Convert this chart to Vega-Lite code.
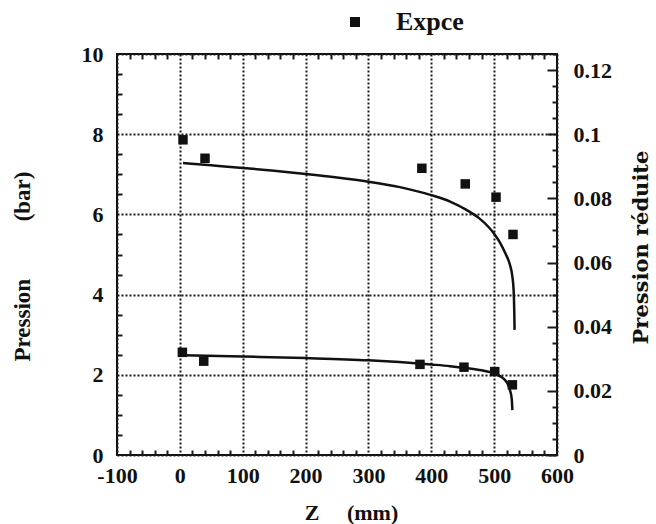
{
  "$schema": "https://vega.github.io/schema/vega-lite/v6.json",
  "width": 440,
  "height": 401,
  "autosize": {"type": "none"},
  "padding": {"left": 117, "top": 54, "right": 99, "bottom": 69},
  "background": "white",
  "config": {
    "view": {"stroke": "#111", "strokeWidth": 2},
    "axis": {
      "domain": false,
      "ticks": false,
      "tickSize": 0,
      "labelFont": "Liberation Serif",
      "labelFontWeight": "bold",
      "labelFontSize": 22,
      "labelColor": "#111",
      "labelOverlap": false,
      "labelFlush": false,
      "titleFont": "Liberation Serif",
      "titleFontWeight": "bold",
      "titleFontSize": 23,
      "titleColor": "#111",
      "gridColor": "#1a1a1a",
      "gridWidth": 2
    }
  },
  "datasets": {
    "mesures": [
      {"z": 5, "p": 7.86, "serie": "Expce"},
      {"z": 40, "p": 7.40, "serie": "Expce"},
      {"z": 385, "p": 7.15, "serie": "Expce"},
      {"z": 454, "p": 6.76, "serie": "Expce"},
      {"z": 503, "p": 6.43, "serie": "Expce"},
      {"z": 530, "p": 5.50, "serie": "Expce"},
      {"z": 4, "p": 2.56, "serie": "Expce"},
      {"z": 38, "p": 2.34, "serie": "Expce"},
      {"z": 382, "p": 2.26, "serie": "Expce"},
      {"z": 452, "p": 2.19, "serie": "Expce"},
      {"z": 501, "p": 2.08, "serie": "Expce"},
      {"z": 529, "p": 1.75, "serie": "Expce"}
    ],
    "modele": [
      {"z": 5, "pr": 0.0910, "courbe": "haut"},
      {"z": 50, "pr": 0.0903, "courbe": "haut"},
      {"z": 100, "pr": 0.0895, "courbe": "haut"},
      {"z": 150, "pr": 0.0886, "courbe": "haut"},
      {"z": 200, "pr": 0.0876, "courbe": "haut"},
      {"z": 250, "pr": 0.0865, "courbe": "haut"},
      {"z": 300, "pr": 0.0852, "courbe": "haut"},
      {"z": 350, "pr": 0.0835, "courbe": "haut"},
      {"z": 400, "pr": 0.0810, "courbe": "haut"},
      {"z": 430, "pr": 0.0790, "courbe": "haut"},
      {"z": 456, "pr": 0.0764, "courbe": "haut"},
      {"z": 475, "pr": 0.0740, "courbe": "haut"},
      {"z": 490, "pr": 0.0713, "courbe": "haut"},
      {"z": 500, "pr": 0.0690, "courbe": "haut"},
      {"z": 510, "pr": 0.0660, "courbe": "haut"},
      {"z": 518, "pr": 0.0628, "courbe": "haut"},
      {"z": 525, "pr": 0.0594, "courbe": "haut"},
      {"z": 529, "pr": 0.0556, "courbe": "haut"},
      {"z": 531, "pr": 0.0514, "courbe": "haut"},
      {"z": 532, "pr": 0.0450, "courbe": "haut"},
      {"z": 532.5, "pr": 0.0390, "courbe": "haut"},
      {"z": 5, "pr": 0.0311, "courbe": "bas"},
      {"z": 100, "pr": 0.0307, "courbe": "bas"},
      {"z": 200, "pr": 0.0302, "courbe": "bas"},
      {"z": 300, "pr": 0.0295, "courbe": "bas"},
      {"z": 400, "pr": 0.0282, "courbe": "bas"},
      {"z": 430, "pr": 0.0277, "courbe": "bas"},
      {"z": 456, "pr": 0.0271, "courbe": "bas"},
      {"z": 480, "pr": 0.0264, "courbe": "bas"},
      {"z": 499, "pr": 0.0255, "courbe": "bas"},
      {"z": 510, "pr": 0.0245, "courbe": "bas"},
      {"z": 517, "pr": 0.0234, "courbe": "bas"},
      {"z": 522, "pr": 0.0220, "courbe": "bas"},
      {"z": 525, "pr": 0.0203, "courbe": "bas"},
      {"z": 528, "pr": 0.0175, "courbe": "bas"},
      {"z": 529, "pr": 0.0140, "courbe": "bas"}
    ]
  },
  "layer": [
    {
      "data": {"name": "mesures"},
      "mark": {"type": "square", "size": 90, "opacity": 1},
      "encoding": {
        "x": {
          "field": "z",
          "type": "quantitative",
          "scale": {"domain": [-100, 600], "nice": false, "zero": false},
          "axis": {
            "orient": "bottom",
            "values": [-100, -80, -60, -40, -20, 0, 20, 40, 60, 80, 100, 120, 140, 160, 180, 200, 220, 240, 260, 280, 300, 320, 340, 360, 380, 400, 420, 440, 460, 480, 500, 520, 540, 560, 580, 600],
            "labelExpr": "datum.value % 100 === 0 ? '' + datum.value : ''",
            "grid": true,
            "gridDash": {"condition": {"test": "datum.value % 100 === 0", "value": [2, 2]}, "value": [5, 391, 5, 1000]},
            "labelPadding": 10,
            "title": "Z\u00a0\u00a0\u00a0\u00a0\u00a0(mm)",
            "titleFontSize": 22,
            "titleX": 234,
            "titleY": 64,
            "titleAlign": "center",
            "titleBaseline": "alphabetic"
          }
        },
        "y": {
          "field": "p",
          "type": "quantitative",
          "scale": {"domain": [0, 10], "nice": false},
          "axis": {
            "orient": "left",
            "values": [0, 0.5, 1, 1.5, 2, 2.5, 3, 3.5, 4, 4.5, 5, 5.5, 6, 6.5, 7, 7.5, 8, 8.5, 9, 9.5, 10],
            "labelExpr": "datum.value % 2 === 0 ? '' + datum.value : ''",
            "grid": true,
            "gridDash": {"condition": {"test": "datum.value % 2 === 0", "value": [2, 2]}, "value": [5, 1000]},
            "labelPadding": 14,
            "title": "Pression\u00a0\u00a0\u00a0\u00a0\u00a0\u00a0\u00a0\u00a0\u00a0\u00a0(bar)",
            "titleX": -95,
            "titleY": 212,
            "titleAngle": 270,
            "titleAlign": "center",
            "titleBaseline": "middle"
          }
        },
        "color": {
          "field": "serie",
          "type": "nominal",
          "scale": {"range": ["#111"]},
          "legend": {
            "orient": "none",
            "legendX": 225,
            "legendY": -45,
            "title": null,
            "padding": 0,
            "labelFont": "Liberation Serif",
            "labelFontWeight": "bold",
            "labelFontSize": 26,
            "labelColor": "#111",
            "labelOffset": 28,
            "symbolType": "square",
            "symbolSize": 100,
            "symbolFillColor": "#111",
            "symbolStrokeWidth": 0
          }
        }
      }
    },
    {
      "data": {"name": "modele"},
      "mark": {"type": "line", "color": "#111", "strokeWidth": 2.5, "interpolate": "monotone"},
      "encoding": {
        "x": {
          "field": "z",
          "type": "quantitative",
          "scale": {"domain": [-100, 600], "nice": false, "zero": false},
          "axis": null
        },
        "y": {
          "field": "pr",
          "type": "quantitative",
          "scale": {"domain": [0, 0.125], "nice": false},
          "axis": {
            "orient": "right",
            "values": [0, 0.005, 0.01, 0.015, 0.02, 0.025, 0.03, 0.035, 0.04, 0.045, 0.05, 0.055, 0.06, 0.065, 0.07, 0.075, 0.08, 0.085, 0.09, 0.095, 0.1, 0.105, 0.11, 0.115, 0.12, 0.125],
            "labelExpr": "indexof([0, 0.02, 0.04, 0.06, 0.08, 0.1, 0.12], datum.value) >= 0 ? '' + datum.value : ''",
            "grid": true,
            "gridDash": {"condition": {"test": "indexof([0, 0.02, 0.04, 0.06, 0.08, 0.1, 0.12], datum.value) >= 0", "value": [10, 1000]}, "value": [5, 1000]},
            "labelPadding": 16,
            "title": "Pression réduite",
            "titleFont": "DejaVu Serif",
            "titleFontSize": 21,
            "titleX": 84,
            "titleY": 193,
            "titleAngle": 270,
            "titleAlign": "center",
            "titleBaseline": "middle"
          }
        },
        "detail": {"field": "courbe", "type": "nominal"}
      }
    }
  ],
  "resolve": {
    "scale": {"y": "independent"},
    "axis": {"x": "independent", "y": "independent"}
  }
}
